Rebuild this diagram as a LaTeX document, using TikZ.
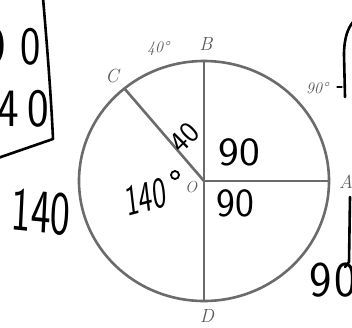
\documentclass[tikz,border=0pt]{standalone}
\begin{document}
\begin{tikzpicture}[x=1pt,y=-1pt,
  print/.style={draw=black!58,line width=2.6pt},
  lbl/.style={text=black!65,font=\itshape\fontsize{19}{19}\selectfont,inner sep=0pt},
  smalllbl/.style={text=black!65,font=\itshape\fontsize{16}{16}\selectfont,inner sep=0pt},
  hw/.style={text=black,font=\sffamily,inner sep=0pt},
  pen/.style={draw=black,line width=2.6pt,line cap=round,line join=round}]
\useasboundingbox (0,0) rectangle (352,327);
\clip (0,0) rectangle (352,327);
\fill[white] (0,0) rectangle (352,327);
% geometry
\coordinate (O) at (204,181);
\coordinate (B) at (204,61);
\coordinate (A) at (329,181);
\coordinate (D) at (204,301);
\coordinate (C) at (124,88);
\draw[print] (O) ellipse [x radius=125, y radius=120];
\draw[print] (O) -- (B);
\draw[print] (O) -- (A);
\draw[print] (O) -- (D);
\draw[print] (O) -- (C);
% printed labels
\node[lbl] (lC) at (112,76) {C};
\node[lbl] (lB) at (206,44) {B};
\node[lbl] (lA) at (346,182) {A};
\node[lbl] (lD) at (207,316) {D};
\node[lbl,font=\itshape\fontsize{16}{16}\selectfont] (lO) at (191,187) {O};
\node[smalllbl] (a40) at (158,49) {40\textdegree};
\node[smalllbl] (a90) at (317,88) {90\textdegree};
% handwritten box top-left
\draw[pen] (43,-2) .. controls (47,45) and (51,95) .. (53,139) -- (-2,158);
\node[hw,font=\sffamily\fontsize{54}{54}\selectfont,xscale=0.8,anchor=east] (h90box) at (41,47) {9\hspace{19pt}0};
\node[hw,font=\sffamily\fontsize{54}{54}\selectfont,xscale=0.85,anchor=east] (h140box) at (49,109) {14\hspace{10pt}0};
% handwritten numbers
\node[hw,font=\sffamily\fontsize{62}{62}\selectfont,xscale=0.68,rotate=-4] (h140left) at (41,212) {140};
\node[hw,font=\sffamily\fontsize{44}{44}\selectfont,xscale=0.66,rotate=10] (h140c) at (146,197) {140};
\node[draw=black,line width=1.8pt,circle,minimum size=8pt,inner sep=0pt] (hdeg) at (175,175) {};
\node[hw,font=\sffamily\fontsize{30}{30}\selectfont,rotate=45] (h40) at (185,138) {40};
\node[hw,font=\sffamily\fontsize{40}{40}\selectfont,xscale=1.1] (h90a) at (239,152) {90};
\node[hw,font=\sffamily\fontsize{40}{40}\selectfont] (h90b) at (235,203) {90};
\node[hw,font=\sffamily\fontsize{50}{50}\selectfont,xscale=0.95] (h90c) at (333,280) {9\hspace{3pt}0};
% brackets at right edge
\draw[pen] (345,97) -- (344,55) .. controls (344,38) and (348,28) .. (353,22);
\draw[pen,line width=1.2pt] (337,87) -- (342,87);
\draw[pen] (350,197) -- (349,262) -- (345,267);
\end{tikzpicture}
\end{document}
